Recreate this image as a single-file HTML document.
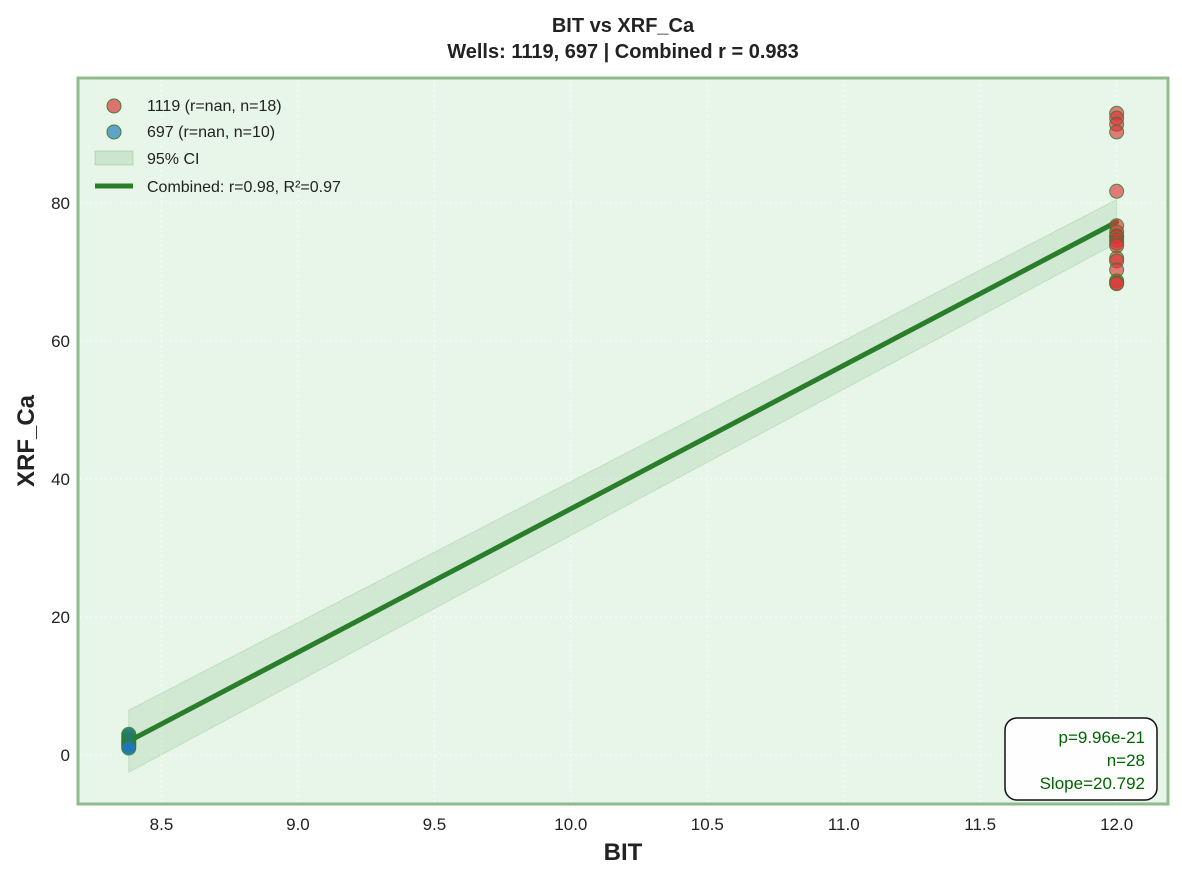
<!DOCTYPE html>
<html><head><meta charset="utf-8"><style>
body{margin:0;background:#fff;font-family:"Liberation Sans",Arial,sans-serif}
svg text{font-family:"Liberation Sans",Arial,sans-serif}
</style></head><body>
<svg id="chart" width="1182" height="880" xmlns="http://www.w3.org/2000/svg">
<text x="623" y="32" text-anchor="middle" font-size="20" font-weight="bold" fill="#222">BIT vs XRF_Ca</text>
<text x="623" y="58" text-anchor="middle" font-size="20" font-weight="bold" fill="#222">Wells: 1119, 697 | Combined r = 0.983</text>
<rect x="78" y="78" width="1090" height="726" fill="#e8f5e9" stroke="#8fbc8f" stroke-width="3"/>
<g id="grid"></g><g id="ticks"></g>
<g id="band"></g><g id="line"></g><g id="pts"></g>
<text x="623" y="860" text-anchor="middle" font-size="24" font-weight="bold" fill="#222">BIT</text>
<text transform="translate(34,441) rotate(-90)" text-anchor="middle" font-size="24" font-weight="bold" fill="#222">XRF_Ca</text>
<g font-size="16" fill="#222">
<circle cx="114" cy="106" r="7" fill="#d9534f" fill-opacity="0.8" stroke="#4a7a3a"/>
<text x="147" y="111">1119 (r=nan, n=18)</text>
<circle cx="114" cy="132" r="7" fill="#3d8fc0" fill-opacity="0.8" stroke="#4a7a3a"/>
<text x="147" y="137">697 (r=nan, n=10)</text>
<rect x="95" y="151" width="38" height="14" fill="#2e8b2e" fill-opacity="0.15" stroke="#2e8b2e" stroke-opacity="0.2"/>
<text x="147" y="164">95% CI</text>
<line x1="95" y1="186" x2="133" y2="186" stroke="#2a7d2a" stroke-width="5"/>
<text x="147" y="192">Combined: r=0.98, R²=0.97</text>
</g>
<g>
<rect x="1005" y="718" width="152" height="82" rx="12" fill="#fff" fill-opacity="0.9" stroke="#111" stroke-width="1.5"/>
<text x="1145" y="743" text-anchor="end" font-size="17" fill="#006400">p=9.96e-21</text>
<text x="1145" y="766" text-anchor="end" font-size="17" fill="#006400">n=28</text>
<text x="1145" y="789" text-anchor="end" font-size="17" fill="#006400">Slope=20.792</text>
</g>
</svg>
<script>
const xTicks=[8.5,9.0,9.5,10.0,10.5,11.0,11.5,12.0];
const yTicks=[0,20,40,60,80];
const x1119=[12,12,12,12,12,12,12,12,12,12,12,12,12,12,12,12,12,12];
const y1119=[93.0,92.3,91.4,90.3,81.7,76.7,75.8,75.2,75.1,74.6,74.2,73.8,72.0,71.6,70.3,68.7,68.4,68.3];
const x697=[8.38,8.38,8.38,8.38,8.38,8.38,8.38,8.38,8.38,8.38];
const y697=[3.0,2.8,2.5,2.2,2.0,1.8,1.6,1.4,1.2,1.0];
const slope=20.792, intercept=-172.24;
const lineX=[8.38,12.0];
const ciLower=[-2.5,74.2];
const ciUpper=[6.5,80.5];
const X=v=>161.5+(v-8.5)*272.9, Y=v=>755-v*6.9;
const ns="http://www.w3.org/2000/svg";
function mk(t,p,a){const e=document.createElementNS(ns,t);for(const k in a)e.setAttribute(k,a[k]);document.getElementById(p).appendChild(e);return e;}
xTicks.forEach(v=>{
 const g=mk('line','grid',{x1:X(v),x2:X(v),y1:80,y2:802,stroke:'#fff','stroke-width':1,'stroke-dasharray':'2,3','stroke-opacity':0.7});
 
 
 const t=mk('text','ticks',{x:X(v),y:830,'text-anchor':'middle','font-size':17,fill:'#222'});
 
 
 t.textContent=v.toFixed(1);
});
yTicks.forEach(v=>{
 const g=mk('line','grid',{x1:80,x2:1166,y1:Y(v),y2:Y(v),stroke:'#fff','stroke-width':1,'stroke-dasharray':'2,3','stroke-opacity':0.7});
 
 
 const t=mk('text','ticks',{x:70,y:Y(v)+6,'text-anchor':'end','font-size':17,fill:'#222'});
 
 
 t.textContent=v;
});
const b=mk('polygon','band',{points:`${X(lineX[0])},${Y(ciUpper[0])} ${X(lineX[1])},${Y(ciUpper[1])} ${X(lineX[1])},${Y(ciLower[1])} ${X(lineX[0])},${Y(ciLower[0])}`,fill:'#2e8b2e','fill-opacity':0.12,stroke:'#2e8b2e','stroke-opacity':0.15});


const l=mk('line','line',{x1:X(lineX[0]),y1:Y(slope*lineX[0]+intercept),x2:X(lineX[1]),y2:Y(slope*lineX[1]+intercept),stroke:'#2a7d2a','stroke-width':5,'stroke-linecap':'round'});


x697.forEach((x,i)=>{const c=mk('circle','pts',{cx:X(x),cy:Y(y697[i]),r:7,fill:'#1f77b4','fill-opacity':0.7,stroke:'#2a7d2a','stroke-opacity':0.8});
 
 });
x1119.forEach((x,i)=>{const c=mk('circle','pts',{cx:X(x),cy:Y(y1119[i]),r:7,fill:'#d9383a','fill-opacity':0.65,stroke:'#2a7d2a','stroke-opacity':0.8});
 
 });
</script>
</body></html>
